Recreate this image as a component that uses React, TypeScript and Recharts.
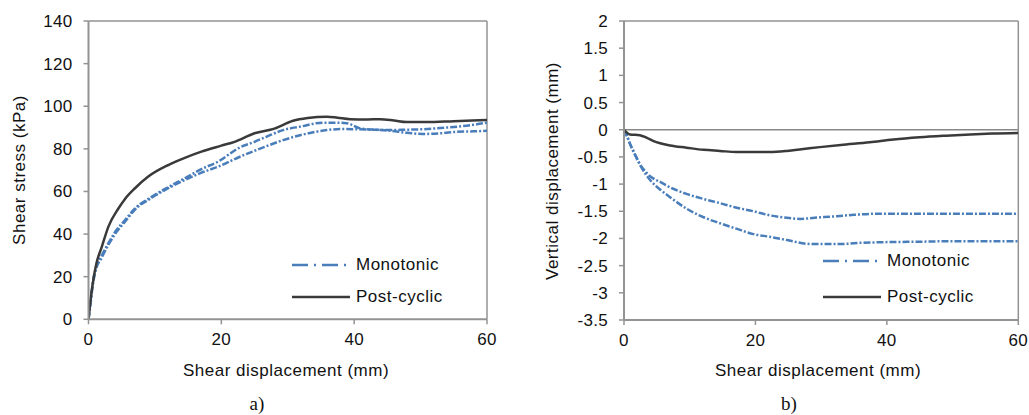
import React from 'react';
import { LineChart, Line, XAxis, YAxis, ReferenceLine } from 'recharts';

// ---- Chart a) Shear stress vs shear displacement ----
const postX = [0, 0.2, 0.6, 1.2, 2, 3, 4.5, 5.5, 7, 9, 12, 14.5, 17, 20, 22, 25, 28, 30.8, 33, 35.9, 37.5, 39.4, 42, 43.9, 46, 47.9, 50.9, 55, 60];
const postY = [0, 6, 16, 26.3, 34, 43.5, 52, 56.5, 61.5, 67, 72.4, 75.8, 78.7, 81.5, 83.3, 87.3, 89.5, 93.2, 94.5, 95.1, 94.6, 93.9, 93.8, 93.9, 93.3, 92.6, 92.6, 93, 93.5];

const monoAX = [0, 0.3, 0.6, 1, 2, 3, 4, 5.5, 7, 9.5, 12, 14.5, 17, 19.5, 22.8, 25, 27, 29.3, 32, 35.3, 37, 38.9, 40.9, 43, 45.4, 48, 50.4, 53, 55.5, 58, 60];
const monoAY = [0, 8, 16, 23, 30, 35.7, 41, 46.6, 52, 57.5, 62, 66.2, 70.5, 74, 80.7, 83.3, 86, 88.8, 90.5, 92.3, 92.3, 92, 89.6, 89, 88.5, 87.5, 87, 87.3, 88, 88.2, 88.5];

const monoBX = [0, 0.3, 0.6, 1, 2, 3, 4, 5.5, 7, 9.5, 12, 14.5, 17, 19.5, 22.8, 25, 27, 29.3, 32, 35.9, 38, 40.4, 43, 45.4, 48, 50.4, 53, 55.5, 58, 60];
const monoBY = [0, 7, 15, 22, 29, 35, 40, 45.8, 51.5, 57, 61.5, 65.4, 68.8, 71.6, 76.3, 79.1, 81.5, 84.1, 86.5, 88.8, 89.3, 89.2, 89, 88.8, 89, 89.2, 89.8, 90.4, 91.3, 92.3];

// ---- Chart b) Vertical displacement vs shear displacement ----
const postVX = [0, 0.9, 2.4, 3.5, 4.5, 5.5, 7, 9.5, 12.1, 14.6, 17.1, 20, 22.2, 24.8, 27, 29.8, 33, 37.4, 41, 45, 49, 52.7, 56, 60];
const postVY = [0, -0.086, -0.1, -0.15, -0.21, -0.25, -0.29, -0.33, -0.37, -0.39, -0.41, -0.41, -0.41, -0.39, -0.36, -0.32, -0.28, -0.23, -0.18, -0.14, -0.11, -0.086, -0.07, -0.06];

const monoV1X = [0, 0.5, 0.9, 1.5, 2.4, 3.5, 4.5, 5.5, 7, 9.5, 12, 14.6, 17, 19.7, 22.2, 24.8, 26.8, 29, 32.4, 35, 38.4, 42, 46, 50, 55, 60];
const monoV1Y = [0, -0.12, -0.26, -0.42, -0.63, -0.8, -0.9, -0.96, -1.06, -1.18, -1.27, -1.35, -1.43, -1.5, -1.575, -1.62, -1.64, -1.62, -1.59, -1.565, -1.545, -1.545, -1.545, -1.545, -1.545, -1.545];

const monoV2X = [0, 0.5, 1, 1.4, 2.5, 4, 5.5, 7, 9.5, 12.1, 14.6, 17.1, 19.7, 22.2, 24.8, 28.3, 30, 33.4, 36, 39, 45, 50, 55, 60];
const monoV2Y = [0, -0.14, -0.28, -0.38, -0.66, -0.93, -1.1, -1.24, -1.45, -1.61, -1.72, -1.82, -1.92, -1.97, -2.03, -2.1, -2.1, -2.1, -2.08, -2.07, -2.06, -2.05, -2.05, -2.05];

const xTicks = [0, 20, 40, 60];
const stressTicks = [0, 20, 40, 60, 80, 100, 120, 140];
const vertTicks = [-3.5, -3, -2.5, -2, -1.5, -1, -0.5, 0, 0.5, 1, 1.5, 2];

const seriesNames = ['Monotonic', 'Post-cyclic'];

const toPts = (xs: number[], ys: number[]) => xs.map((x, i) => ({ x, y: ys[i] }));

const BLUE = '#4a7ebb';
const BLACK = '#3a3a3a';
const AXIS = '#939393';
const FONT = '"Liberation Sans", Arial, sans-serif';
const tickStyle = { fill: '#111', fontSize: 17, fontFamily: FONT, letterSpacing: 0.3 };

const textStyle: React.CSSProperties = {
  position: 'absolute',
  fontFamily: FONT,
  fontSize: 17,
  letterSpacing: 0.5,
  color: '#111',
  whiteSpace: 'nowrap',
  lineHeight: '20px',
};

function LegendBox({ left, y1, y2 }: { left: number; y1: number; y2: number }) {
  return (
    <>
      <svg style={{ position: 'absolute', left, top: y1 - 5, overflow: 'visible' }} width={60} height={10}>
        <line x1={0} y1={5} x2={58} y2={5} stroke={BLUE} strokeWidth={2.5} strokeDasharray="16 6 2 6" />
      </svg>
      <div style={{ ...textStyle, left: left + 64, top: y1 - 10 }}>{seriesNames[0]}</div>
      <svg style={{ position: 'absolute', left, top: y2 - 5, overflow: 'visible' }} width={60} height={10}>
        <line x1={0} y1={5} x2={58} y2={5} stroke={BLACK} strokeWidth={2.5} />
      </svg>
      <div style={{ ...textStyle, left: left + 64, top: y2 - 10 }}>{seriesNames[1]}</div>
    </>
  );
}

export default function App() {
  const axisLine = { stroke: AXIS, strokeWidth: 2 };
  const tickLine = { stroke: AXIS, strokeWidth: 1.5 };
  return (
    <div style={{ position: 'absolute', left: 0, top: 0, width: 1029, height: 415, background: '#fff', overflow: 'hidden' }}>
      {/* Chart a */}
      <div style={{ position: 'absolute', left: 0, top: 0 }}>
        <LineChart width={520} height={415} margin={{ top: 21, right: 33, left: 28.5, bottom: 65.7 }}>
          <XAxis type="number" dataKey="x" domain={[0, 60]} ticks={xTicks} height={30} tickSize={5} tickMargin={9}
            axisLine={axisLine} tickLine={tickLine} tick={tickStyle} allowDataOverflow />
          <YAxis type="number" dataKey="y" domain={[0, 140]} ticks={stressTicks} width={60} tickSize={5} tickMargin={11}
            axisLine={axisLine} tickLine={tickLine} tick={tickStyle} allowDataOverflow />
          <ReferenceLine y={140} stroke={AXIS} strokeWidth={1.5} />
          <ReferenceLine x={60} stroke={AXIS} strokeWidth={1.5} />
          <Line data={toPts(monoAX, monoAY)} dataKey="y" type="monotone" stroke={BLUE} strokeWidth={2.5} strokeDasharray="7 2 2 2" dot={false} isAnimationActive={false} />
          <Line data={toPts(monoBX, monoBY)} dataKey="y" type="monotone" stroke={BLUE} strokeWidth={2.5} strokeDasharray="7 2 2 2" dot={false} isAnimationActive={false} />
          <Line data={toPts(postX, postY)} dataKey="y" type="monotone" stroke={BLACK} strokeWidth={2.5} dot={false} isAnimationActive={false} />
        </LineChart>
      </div>
      {/* Chart b */}
      <div style={{ position: 'absolute', left: 520, top: 0 }}>
        <LineChart width={509} height={415} margin={{ top: 21, right: 10.7, left: 44, bottom: 65 }}>
          <XAxis type="number" dataKey="x" domain={[0, 60]} ticks={xTicks} height={30} tickSize={5} tickMargin={9}
            axisLine={axisLine} tickLine={tickLine} tick={tickStyle} allowDataOverflow />
          <YAxis type="number" dataKey="y" domain={[-3.5, 2]} ticks={vertTicks} width={60} tickSize={5} tickMargin={11}
            axisLine={axisLine} tickLine={tickLine} tick={tickStyle} allowDataOverflow />
          <ReferenceLine y={2} stroke={AXIS} strokeWidth={1.5} />
          <ReferenceLine x={60} stroke={AXIS} strokeWidth={1.5} />
          <ReferenceLine y={0} stroke="#888" strokeWidth={1.5} />
          <Line data={toPts(monoV1X, monoV1Y)} dataKey="y" type="monotone" stroke={BLUE} strokeWidth={2.5} strokeDasharray="7 2 2 2" dot={false} isAnimationActive={false} />
          <Line data={toPts(monoV2X, monoV2Y)} dataKey="y" type="monotone" stroke={BLUE} strokeWidth={2.5} strokeDasharray="7 2 2 2" dot={false} isAnimationActive={false} />
          <Line data={toPts(postVX, postVY)} dataKey="y" type="monotone" stroke={BLACK} strokeWidth={2.5} dot={false} isAnimationActive={false} />
        </LineChart>
      </div>

      {/* Axis titles */}
      <div style={{ ...textStyle, left: 20, top: 170, transform: 'translate(-50%, -50%) rotate(-90deg)' }}>Shear stress (kPa)</div>
      <div style={{ ...textStyle, left: 286, top: 371, transform: 'translate(-50%, -50%)' }}>Shear displacement (mm)</div>
      <div style={{ ...textStyle, left: 553, top: 171, transform: 'translate(-50%, -50%) rotate(-90deg)' }}>Vertical displacement (mm)</div>
      <div style={{ ...textStyle, left: 818, top: 371, transform: 'translate(-50%, -50%)' }}>Shear displacement (mm)</div>

      {/* Panel labels */}
      <div style={{ position: 'absolute', left: 257, top: 404, transform: 'translate(-50%, -50%)', fontFamily: '"Liberation Serif", "Times New Roman", serif', fontSize: 19, color: '#111' }}>a)</div>
      <div style={{ position: 'absolute', left: 789, top: 404, transform: 'translate(-50%, -50%)', fontFamily: '"Liberation Serif", "Times New Roman", serif', fontSize: 19, color: '#111' }}>b)</div>

      {/* Legends */}
      <LegendBox left={292} y1={265} y2={297} />
      <LegendBox left={823} y1={261} y2={297} />
    </div>
  );
}
